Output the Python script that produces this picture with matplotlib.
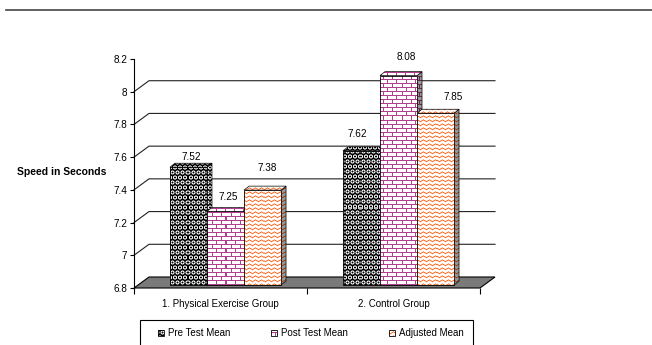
import numpy as np
import matplotlib
matplotlib.use("Agg")
import matplotlib.pyplot as plt
from matplotlib.patches import Polygon, Rectangle
from matplotlib.lines import Line2D
from matplotlib.transforms import IdentityTransform, ScaledTranslation

plt.rcParams['font.family'] = ['Liberation Sans', 'DejaVu Sans']

# ---------------- data ----------------
groups = ["1. Physical Exercise Group", "2. Control Group"]
series_names = ["Pre Test Mean", "Post Test Mean", "Adjusted Mean"]
pre_test = [7.52, 7.62]
post_test = [7.25, 8.08]
adjusted = [7.38, 7.85]
y_ticks = [6.8, 7.0, 7.2, 7.4, 7.6, 7.8, 8.0, 8.2]
y_label = "Speed in Seconds"

# label placement (pixels, relative to the top centre of the bar)
label_offsets = [[(2.5, 10), (-4.5, 17)],
                 [(2.5, 14), (7.5, 19)],
                 [(5, 22), (17.5, 16)]]

W, H = 652, 345
fig = plt.figure(figsize=(W / 100, H / 100), dpi=100)
fig.patch.set_facecolor('white')
ax = fig.add_axes([134 / W, (H - 288) / H, 346 / W, 229 / H])
ax.set_xlim(-0.5, 1.5)
ax.set_ylim(y_ticks[0], y_ticks[-1])
ax.set_autoscale_on(False)
ax.patch.set_visible(False)
for s in ['top', 'right', 'bottom']:
    ax.spines[s].set_visible(False)
ax.spines['left'].set_linewidth(0.8)
ax.set_yticks(y_ticks)
ax.set_yticklabels([f"{v:g}" for v in y_ticks])
ax.tick_params(axis='y', direction='out', length=3, width=0.8, labelsize=7.2, pad=2)
ax.set_xticks(range(len(groups)))
ax.set_xticklabels(groups)
ax.tick_params(axis='x', which='major', length=0, labelsize=7, pad=8)
ax.set_xticks([-0.5, 0.5, 1.5], minor=True)
ax.tick_params(axis='x', which='minor', direction='out', length=4, width=0.8)

fig.text(17 / W, 1 - 172 / H, y_label, fontsize=7.5, fontweight='bold', va='center', ha='left')

# header line at the very top
fig.add_artist(Line2D([6, W], [H - 10, H - 10], transform=IdentityTransform(), color='#444444', lw=1.2))

# ---------------- textures ----------------
yy, xx = np.mgrid[0:H, 0:W].astype(float)

def tex_dots():
    p = 5.0
    row = np.floor(yy / p)
    off = (row % 2) * p / 2
    cx = (np.floor((xx + off) / p) + 0.5) * p - off
    cy = (row + 0.5) * p
    d = np.hypot(xx + 0.5 - cx, yy + 0.5 - cy)
    v = np.clip(1.3 - np.abs(d - 1.5) / 0.7, 0, 1) * 0.95
    return np.stack([v, v, v], axis=-1)

def tex_bricks():
    h, L = 4, 9
    row = np.floor(yy / h)
    hline = (yy % h) == 0
    vline = ((xx + (row % 2) * (L // 2)) % L) == 0
    m = (hline | vline).astype(float)[..., None]
    col = np.array([0.70, 0.25, 0.55])
    return (1 - m) * 1.0 + m * col

def tex_waves():
    s, per, amp = 4.0, 6.0, 1.6
    tri = np.abs(((xx / per) % 1) * 2 - 1)
    mm = (yy + 0.5 - amp * tri) % s
    dist = np.minimum(mm, s - mm)
    v = np.clip(1.1 - dist, 0, 1)[..., None]
    col = np.array([0.98, 0.45, 0.18])
    return (1 - v) * 1.0 + v * col

textures = [tex_dots(), tex_bricks(), tex_waves()]

def fill_tex(clip_patch, bbox, tex, z, dark=1.0, clip_box=None):
    xb = int(np.floor(bbox.x0)) - 1
    xt = int(np.ceil(bbox.x1)) + 1
    yb = int(np.floor(bbox.y0)) - 1
    yt = int(np.ceil(bbox.y1)) + 1
    xb, xt = max(xb, 0), min(xt, W)
    yb, yt = max(yb, 0), min(yt, H)
    sub = np.clip(tex[H - yt:H - yb, xb:xt] * dark, 0, 1)
    im = ax.imshow(sub, extent=(xb, xt, yb, yt), origin='upper',
                   transform=IdentityTransform(), interpolation='nearest',
                   aspect='auto', zorder=z)
    if clip_box is not None:
        im.set_clip_box(clip_box)
    im.set_clip_path(clip_patch)
    return im

# ---------------- back wall gridlines & floor ----------------
wall_dx, wall_dy = 15, 11
x_left, x_right = ax.get_xlim()
for v in y_ticks[1:-1]:
    fx, fy = ax.transData.transform((x_left, v))
    rx, _ = ax.transData.transform((x_right, v))
    ln = Line2D([fx, fx + wall_dx, rx + wall_dx], [fy, fy + wall_dy, fy + wall_dy],
                transform=IdentityTransform(), color='#222222', lw=0.8, zorder=1)
    ln.set_clip_on(False)
    ax.add_artist(ln)

fx, fy = ax.transData.transform((x_left, y_ticks[0]))
rx, _ = ax.transData.transform((x_right, y_ticks[0]))
floor = Polygon([(fx, fy), (rx, fy), (rx + wall_dx, fy + wall_dy), (fx + wall_dx, fy + wall_dy)],
                closed=True, transform=IdentityTransform(), facecolor='#7a7a7a',
                edgecolor='black', lw=0.8, zorder=1.5)
floor.set_clip_on(False)
ax.add_artist(floor)

# ---------------- bars ----------------
width = 0.214
offsets = [-width, 0.0, width]
xpos = np.arange(len(groups))
shift_x, shift_y = 5, 3
bdx, bdy = 5, 4
shift = ScaledTranslation(shift_x / 100, shift_y / 100, fig.dpi_scale_trans)
all_series = [pre_test, post_test, adjusted]

for i, vals in enumerate(all_series):
    base = 3 + i * 0.1
    bars = ax.bar(xpos + offsets[i], np.array(vals) - y_ticks[0], bottom=y_ticks[0],
                  width=width, facecolor='none', edgecolor='black', lw=0.6, zorder=base + 0.03)
    for j, b in enumerate(bars):
        b.set_transform(ax.transData + shift)
        ext = b.get_window_extent()
        x0, x1, y0, y1 = ext.x0, ext.x1, ext.y0, ext.y1
        side = Polygon([(x1, y0), (x1, y1), (x1 + bdx, y1 + bdy), (x1 + bdx, y0 + bdy)],
                       closed=True, transform=IdentityTransform(), facecolor='none',
                       edgecolor='black', lw=0.5, zorder=base + 0.01)
        ax.add_artist(side)
        fill_tex(side, side.get_window_extent(), textures[i], base, dark=0.6 if i else 1.0)
        fill_tex(b, ext, textures[i], base + 0.02)
        top = Polygon([(x0, y1), (x0 + bdx, y1 + bdy), (x1 + bdx, y1 + bdy), (x1, y1)],
                      closed=True, transform=IdentityTransform(), facecolor='none',
                      edgecolor='black', lw=0.5, zorder=base + 0.05)
        ax.add_artist(top)
        fill_tex(top, top.get_window_extent(), textures[i], base + 0.04)
        ox, oy = label_offsets[i][j]
        ax.annotate(f"{vals[j]:.2f}", xy=(xpos[j] + offsets[i], vals[j]),
                    xytext=(ox + shift_x, oy + shift_y), textcoords='offset pixels',
                    ha='center', va='center', fontsize=7.2, zorder=6,
                    annotation_clip=False)

# ---------------- legend ----------------
frame = Rectangle((140, -3), 333, H - 320 + 3, transform=IdentityTransform(),
                  facecolor='none', edgecolor='black', lw=0.8, zorder=5)
fig.add_artist(frame)
leg_marker_x = [158, 271, 389]
leg_text_x = [168, 281, 399]
leg_y = H - 333
for i, name in enumerate(series_names):
    mk = Rectangle((leg_marker_x[i], leg_y - 3), 6, 6, transform=IdentityTransform(),
                   facecolor='none', edgecolor='black', lw=0.6, zorder=6)
    fig.add_artist(mk)
    fill_tex(mk, mk.get_window_extent(), textures[i], 2, clip_box=fig.bbox)
    fig.text(leg_text_x[i] / W, leg_y / H, name, fontsize=7, ha='left', va='center')

ax.set_xlim(x_left, x_right)
ax.set_ylim(y_ticks[0], y_ticks[-1])
fig.savefig("out.png", dpi=100)
